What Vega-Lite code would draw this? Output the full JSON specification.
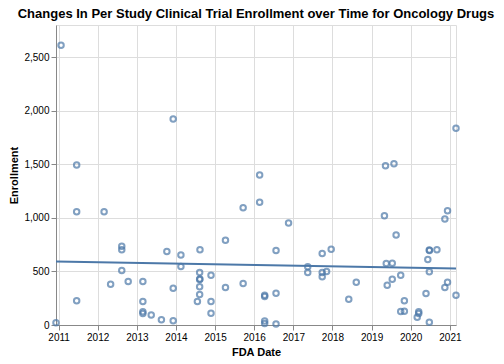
{
  "$schema": "https://vega.github.io/schema/vega-lite/v6.json",
  "width": 400,
  "height": 300,
  "padding": {"left": 8, "top": 8, "right": 5, "bottom": 5},
  "title": {"text": "Changes In Per Study Clinical Trial Enrollment over Time for Oncology Drugs", "fontSize": 13, "font": "Liberation Sans", "fontWeight": "bold"},
  "config": {"font": "Liberation Sans"},
  "data": {
    "format": {"parse": {"date": "date"}},
    "values": [
      {"date": "2010-12-08", "enrollment": 22},
      {"date": "2011-01-24", "enrollment": 2612},
      {"date": "2011-06-19", "enrollment": 1493},
      {"date": "2011-06-19", "enrollment": 1058},
      {"date": "2011-06-19", "enrollment": 226},
      {"date": "2012-03-01", "enrollment": 1058},
      {"date": "2012-05-01", "enrollment": 381},
      {"date": "2012-08-13", "enrollment": 734},
      {"date": "2012-08-13", "enrollment": 703},
      {"date": "2012-08-13", "enrollment": 509},
      {"date": "2012-10-12", "enrollment": 406},
      {"date": "2013-02-26", "enrollment": 406},
      {"date": "2013-02-26", "enrollment": 220},
      {"date": "2013-02-26", "enrollment": 123},
      {"date": "2013-02-26", "enrollment": 107},
      {"date": "2013-05-15", "enrollment": 94},
      {"date": "2013-08-18", "enrollment": 50},
      {"date": "2013-10-08", "enrollment": 687},
      {"date": "2013-12-06", "enrollment": 1923},
      {"date": "2013-12-06", "enrollment": 344},
      {"date": "2013-12-06", "enrollment": 39},
      {"date": "2014-02-16", "enrollment": 654},
      {"date": "2014-02-16", "enrollment": 545},
      {"date": "2014-08-13", "enrollment": 703},
      {"date": "2014-08-10", "enrollment": 491},
      {"date": "2014-08-10", "enrollment": 425},
      {"date": "2014-08-12", "enrollment": 430},
      {"date": "2014-08-10", "enrollment": 357},
      {"date": "2014-08-10", "enrollment": 285},
      {"date": "2014-07-20", "enrollment": 220},
      {"date": "2014-11-24", "enrollment": 465},
      {"date": "2014-11-24", "enrollment": 220},
      {"date": "2014-11-24", "enrollment": 110},
      {"date": "2015-04-08", "enrollment": 792},
      {"date": "2015-04-08", "enrollment": 350},
      {"date": "2015-09-20", "enrollment": 1095},
      {"date": "2015-09-20", "enrollment": 388},
      {"date": "2016-02-21", "enrollment": 1400},
      {"date": "2016-02-21", "enrollment": 1145},
      {"date": "2016-04-08", "enrollment": 278},
      {"date": "2016-04-08", "enrollment": 266},
      {"date": "2016-04-08", "enrollment": 37},
      {"date": "2016-04-08", "enrollment": 14},
      {"date": "2016-07-23", "enrollment": 695},
      {"date": "2016-07-23", "enrollment": 297},
      {"date": "2016-07-23", "enrollment": 10},
      {"date": "2016-11-17", "enrollment": 953},
      {"date": "2017-05-15", "enrollment": 544},
      {"date": "2017-05-15", "enrollment": 491},
      {"date": "2017-09-27", "enrollment": 668},
      {"date": "2017-09-27", "enrollment": 491},
      {"date": "2017-09-27", "enrollment": 450},
      {"date": "2017-11-07", "enrollment": 499},
      {"date": "2017-12-20", "enrollment": 707},
      {"date": "2018-06-02", "enrollment": 241},
      {"date": "2018-08-11", "enrollment": 400},
      {"date": "2019-05-01", "enrollment": 1020},
      {"date": "2019-05-11", "enrollment": 1486},
      {"date": "2019-05-18", "enrollment": 575},
      {"date": "2019-05-27", "enrollment": 371},
      {"date": "2019-07-13", "enrollment": 577},
      {"date": "2019-07-13", "enrollment": 428},
      {"date": "2019-07-29", "enrollment": 1506},
      {"date": "2019-08-18", "enrollment": 841},
      {"date": "2019-09-30", "enrollment": 465},
      {"date": "2019-09-30", "enrollment": 126},
      {"date": "2019-11-03", "enrollment": 226},
      {"date": "2019-11-03", "enrollment": 129},
      {"date": "2020-03-16", "enrollment": 123},
      {"date": "2020-03-16", "enrollment": 108},
      {"date": "2020-03-02", "enrollment": 72},
      {"date": "2020-05-23", "enrollment": 294},
      {"date": "2020-06-09", "enrollment": 612},
      {"date": "2020-06-23", "enrollment": 701},
      {"date": "2020-06-24", "enrollment": 695},
      {"date": "2020-06-23", "enrollment": 497},
      {"date": "2020-06-23", "enrollment": 26},
      {"date": "2020-09-02", "enrollment": 703},
      {"date": "2020-11-15", "enrollment": 989},
      {"date": "2020-11-15", "enrollment": 349},
      {"date": "2020-12-10", "enrollment": 1067},
      {"date": "2020-12-10", "enrollment": 400},
      {"date": "2021-02-27", "enrollment": 1836},
      {"date": "2021-02-27", "enrollment": 278}
    ]
  },
  "layer": [
    {
      "mark": {"type": "point", "filled": false, "color": "#4c78a8"},
      "encoding": {
        "x": {"field": "date", "type": "temporal", "title": "FDA Date", "axis": {"format": "%Y"}},
        "y": {"field": "enrollment", "type": "quantitative", "title": "Enrollment", "scale": {"domain": [0, 2800], "nice": false}}
      }
    },
    {
      "transform": [{"regression": "enrollment", "on": "date"}],
      "mark": {"type": "line", "color": "#4c78a8", "strokeWidth": 2},
      "encoding": {
        "x": {"field": "date", "type": "temporal"},
        "y": {"field": "enrollment", "type": "quantitative"}
      }
    }
  ]
}
